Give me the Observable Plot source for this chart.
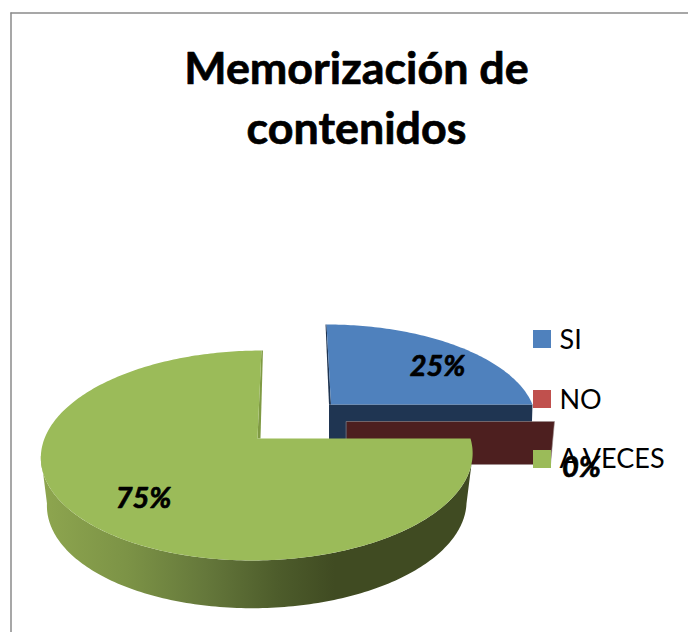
<!DOCTYPE html>
<html>
<head>
<meta charset="utf-8">
<script src="https://cdn.jsdelivr.net/npm/d3@7"></script>
<script src="https://cdn.jsdelivr.net/npm/@observablehq/plot@0.6"></script>
<style>html,body{margin:0;padding:0;background:#fff}svg{display:block}</style>
</head>
<body>
<div id="chart"></div>
<script>
// Data
const titleLines = ["Memorización de", "contenidos"];
const categories = ["SI", "NO", "A VECES"];
const percentages = [25, 0, 75];
const topColors = ["#4f81bd", "#c0504d", "#9bbb59"];
const wallColors = ["#1f3552", "#4d1f1f", "#7f9a43"];
const FONT = "Lato, Carlito, Calibri, sans-serif";

// Exploded 3D pie layout: one perspective disc per slice
const tilt = 0.162;
const discs = [
  {cx: 330.5, cy: 404, kx: 201.5, ky: 93, shear: -5.2, depth: 48, kxB: 201.5, kyB: 93},
  {cx: 346, cy: 421, kx: 208, ky: 95, shear: 0, depth: 43, kxB: 204, kyB: 95},
  {cx: 257, cy: 438, kx: 213, ky: 102.2, shear: 4.6, depth: 48, kxB: 207, kyB: 102}
];
const rad = (deg) => (deg * Math.PI) / 180;
function rim(d, deg, bottom = false) {
  const u = Math.sin(rad(deg)), v = Math.cos(rad(deg)), w = 1 + tilt * v;
  return bottom
    ? {x: d.cx + (d.kxB * u + d.shear * v) / w, y: d.cy + d.depth - (d.kyB * v) / w}
    : {x: d.cx + (d.kx * u + d.shear * v) / w, y: d.cy - (d.ky * v) / w};
}
function arc(d, a0, a1, bottom = false) {
  const n = Math.max(1, Math.round(Math.abs(a1 - a0)));
  return d3.range(n + 1).map((i) => rim(d, a0 + ((a1 - a0) * i) / n, bottom));
}
// slice angles come from the values
let acc = 0;
const slices = percentages.map((p, i) => {
  const a0 = acc * 3.6; acc += p;
  return {name: categories[i], pct: p, a0, a1: acc * 3.6, disc: discs[i], top: topColors[i], wall: wallColors[i]};
});
const [si, no, av] = slices;
const apex = (d) => ({x: d.cx, y: d.cy});
const below = (p, d) => ({x: p.x, y: p.y + d});

// polygons
const siTop = [apex(si.disc), ...arc(si.disc, si.a0, si.a1)];
const siCorner = rim(si.disc, si.a1);
const siRim0 = rim(si.disc, si.a0);
const siStrip = [siRim0, {x: siRim0.x - 1, y: siRim0.y}, {x: si.disc.cx - 2, y: si.disc.cy}, apex(si.disc)];
const siFace = [{x: si.disc.cx - 2, y: si.disc.cy}, siCorner, {x: siCorner.x - 1.5, y: si.disc.cy + si.disc.depth}, {x: si.disc.cx - 2, y: si.disc.cy + si.disc.depth}];
const noCorner = rim(no.disc, no.a1);
const noFace = [apex(no.disc), noCorner, rim(no.disc, no.a1, true), below(apex(no.disc), no.disc.depth)];
const limit = (Math.acos(-tilt) * 180) / Math.PI; // silhouette angle of the disc
const avWall = [...arc(av.disc, limit, 360 - limit), ...arc(av.disc, 360 - limit, limit, true)];
const avTop = [apex(av.disc), ...arc(av.disc, av.a0, av.a1)];
const avRim1 = rim(av.disc, av.a1);
const avStrip = [avRim1, {x: avRim1.x + 1.5, y: avRim1.y}, {x: av.disc.cx + 3, y: av.disc.cy}, apex(av.disc)];

const gradientStops = [[0, "#8ea64f"], [0.2, "#7c9346"], [0.38, "#65783b"], [0.55, "#4d5c2b"], [0.68, "#404b22"], [1, "#404b22"]];
const wallGradient = () => {
  const defs = d3.create("svg:defs");
  const g = defs.append("linearGradient").attr("id", "wall3d").attr("x1", 0).attr("x2", 1).attr("y1", 0).attr("y2", 0);
  gradientStops.forEach(([o, c]) => g.append("stop").attr("offset", o).attr("stop-color", c));
  return defs.node();
};

const poly = (pts, fill, extra = {}) => Plot.line(pts, {x: "x", y: "y", fill, stroke: "none", curve: "linear-closed", ...extra});

// frame of the chart area
const frameTop = [{x: 10.5, y: 12.5}, {x: 688, y: 12.5}];
const frameLeft = [{x: 10.5, y: 12.5}, {x: 10.5, y: 632}];

// labels and legend
const titleRows = titleLines.map((t, i) => ({t, x: 356, y: 69 + i * 60}));
const legendRows = categories.map((name, i) => ({name, color: topColors[i], y0: 330 + i * 60, y1: 348 + i * 60, x0: 533, x1: 551, tx: 559, ty: 340 + i * 60 - (i === 2 ? 1 : 0)}));
const pctRows = [
  {t: percentages[0] + "%", x: 437, y: 366},
  {t: percentages[1] + "%", x: 581, y: 467},
  {t: percentages[2] + "%", x: 143, y: 498}
];

const chart = Plot.plot({
  width: 688, height: 632,
  marginTop: 0, marginRight: 0, marginBottom: 0, marginLeft: 0,
  style: {background: "#fff"},
  x: {domain: [0, 688], range: [0, 688], axis: null},
  y: {domain: [0, 632], range: [0, 632], axis: null},
  marks: [
    wallGradient,
    Plot.line(frameTop, {x: "x", y: "y", stroke: "#8a8a8a", strokeWidth: 1.5}),
    Plot.line(frameLeft, {x: "x", y: "y", stroke: "#8a8a8a", strokeWidth: 1.5}),
    Plot.text(titleRows, {x: "x", y: "y", text: "t", fontFamily: FONT, fontWeight: 700, fontSize: 44.8, fill: "#000", stroke: "#000", strokeWidth: 0.7, lineAnchor: "middle"}),
    poly(siFace, si.wall),
    poly(siStrip, si.wall),
    poly(siTop, si.top),
    poly(noFace, no.wall, {stroke: "#9c8f8f", strokeWidth: 0.6}),
    poly(avWall, "url(#wall3d)"),
    poly(avStrip, av.wall),
    poly(avTop, av.top),
    Plot.rect(legendRows, {x1: "x0", x2: "x1", y1: "y0", y2: "y1", fill: "color"}),
    Plot.text(legendRows, {x: "tx", y: "ty", text: "name", textAnchor: "start", fontFamily: FONT, fontSize: 27, fill: "#000", lineAnchor: "middle"}),
    Plot.text(pctRows, {x: "x", y: "y", text: "t", fontFamily: FONT, fontWeight: 700, fontStyle: "italic", fontSize: 29, fill: "#000", stroke: "#000", strokeWidth: 0.7, lineAnchor: "middle"})
  ]
});
document.getElementById("chart").append(chart);
</script>
</body>
</html>
